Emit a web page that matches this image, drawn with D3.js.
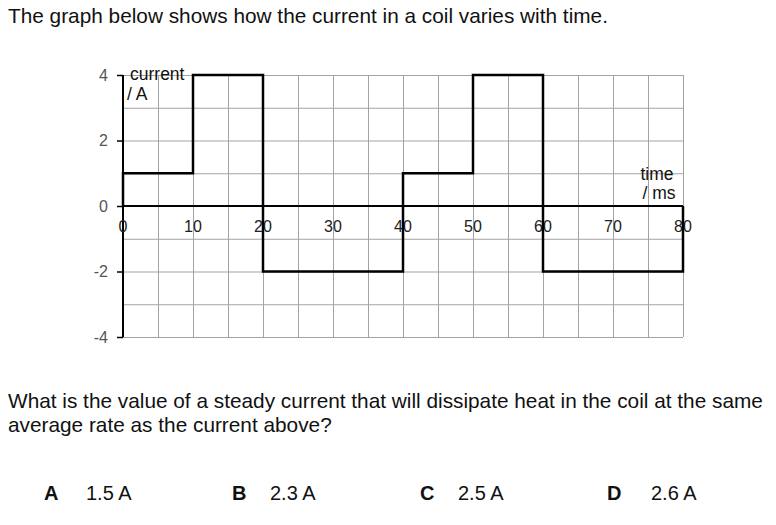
<!DOCTYPE html>
<html>
<head>
<meta charset="utf-8">
<script src="https://cdn.jsdelivr.net/npm/d3@7"></script>
<style>
  html, body { margin: 0; padding: 0; background: #fff; }
  svg { display: block; font-family: "Liberation Sans", Arial, Helvetica, sans-serif; }
</style>
</head>
<body>
<svg id="chart" width="776" height="525"></svg>
<script>
// ---- data ----
const stepTimes = [0, 10, 20, 40, 50, 60, 80];      // ms, start of each level (last = end)
const stepCurrents = [1, 4, -2, 1, 4, -2, -2];      // A
const xTickValues = [0, 10, 20, 30, 40, 50, 60, 70, 80];
const yTickValues = [-4, -2, 0, 2, 4];
const xGridValues = d3.range(0, 81, 5);
const yGridValues = d3.range(-4, 5, 1);
const titleText = "The graph below shows how the current in a coil varies with time.";
const questionLines = [
  "What is the value of a steady current that will dissipate heat in the coil at the same",
  "average rate as the current above?"
];
const optionLetters = ["A", "B", "C", "D"];
const optionValues = ["1.5 A", "2.3 A", "2.5 A", "2.6 A"];

// ---- layout ----
const svg = d3.select("#chart");
const x = d3.scaleLinear().domain([0, 80]).range([123, 683]);
const y = d3.scaleLinear().domain([-4, 4]).range([337, 75]);

// title
svg.append("text").attr("x", 8).attr("y", 23)
  .attr("font-size", 20.8).attr("fill", "#111").text(titleText);

// grid
const grid = svg.append("g").attr("stroke", "#a3a3a3").attr("stroke-width", 1);
grid.selectAll("line.v").data(xGridValues).join("line")
  .attr("x1", d => x(d) + 0.5).attr("x2", d => x(d) + 0.5)
  .attr("y1", y(4)).attr("y2", y(-4));
grid.selectAll("line.h").data(yGridValues).join("line")
  .attr("y1", d => y(d) + 0.5).attr("y2", d => y(d) + 0.5)
  .attr("x1", x(0)).attr("x2", x(80));

// y axis
const yAxis = d3.axisLeft(y).tickValues(yTickValues).tickSize(6).tickPadding(9)
  .tickFormat(d => String(d));
const yg = svg.append("g").attr("transform", `translate(${x(0)},0)`).call(yAxis);
yg.select(".domain").remove();
yg.selectAll(".tick line").attr("stroke", "#000").attr("stroke-width", 1.5);
yg.selectAll(".tick text").attr("font-size", 16).attr("fill", "#555")
  .attr("font-family", "'Liberation Sans', Arial, sans-serif");
svg.append("line").attr("x1", x(0)).attr("x2", x(0)).attr("y1", y(4)).attr("y2", y(-4))
  .attr("stroke", "#000").attr("stroke-width", 2);

// x axis
svg.append("line").attr("x1", x(0)).attr("x2", x(80)).attr("y1", y(0)).attr("y2", y(0))
  .attr("stroke", "#000").attr("stroke-width", 2);
svg.append("g").selectAll("text").data(xTickValues).join("text")
  .attr("x", d => x(d)).attr("y", y(0) + 26)
  .attr("text-anchor", "middle").attr("font-size", 16).attr("fill", "#222")
  .text(d => d);

// data step line
const pts = [[0, 0]];
stepTimes.forEach((t, i) => pts.push([t, stepCurrents[i]]));
pts.push([stepTimes[stepTimes.length - 1], 0]);
const line = d3.line().x(d => x(d[0])).y(d => y(d[1]));
const stepPts = [];
pts.forEach((p, i) => {
  if (i > 1 && i < pts.length - 1) stepPts.push([p[0], pts[i - 1][1]]);
  stepPts.push(p);
});
svg.append("path").attr("d", line(stepPts)).attr("fill", "none")
  .attr("stroke", "#000").attr("stroke-width", 2.5).attr("stroke-linejoin", "miter");

// axis labels
svg.append("text").attr("x", 130).attr("y", 80).attr("font-size", 17.5).attr("fill", "#111").text("current");
svg.append("text").attr("x", 127).attr("y", 100).attr("font-size", 17.5).attr("fill", "#111").text("/ A");
svg.append("text").attr("x", 657).attr("y", 180).attr("font-size", 17.5).attr("text-anchor", "middle").attr("fill", "#111").text("time");
svg.append("text").attr("x", 659).attr("y", 199).attr("font-size", 17.5).attr("text-anchor", "middle").attr("fill", "#111").text("/ ms");

// question
svg.append("g").selectAll("text").data(questionLines).join("text")
  .attr("x", 8).attr("y", (d, i) => 408 + i * 24)
  .attr("font-size", 20.8).attr("fill", "#111").text(d => d);

// options
const letterX = [44, 232, 420, 607];
const valueX = [86, 270, 458, 651];
const og = svg.append("g");
og.selectAll("text.l").data(optionLetters).join("text")
  .attr("x", (d, i) => letterX[i]).attr("y", 500)
  .attr("font-size", 20).attr("font-weight", "bold").attr("fill", "#111").text(d => d);
og.selectAll("text.v").data(optionValues).join("text")
  .attr("x", (d, i) => valueX[i]).attr("y", 500)
  .attr("font-size", 20).attr("fill", "#111").text(d => d);
</script>
</body>
</html>
